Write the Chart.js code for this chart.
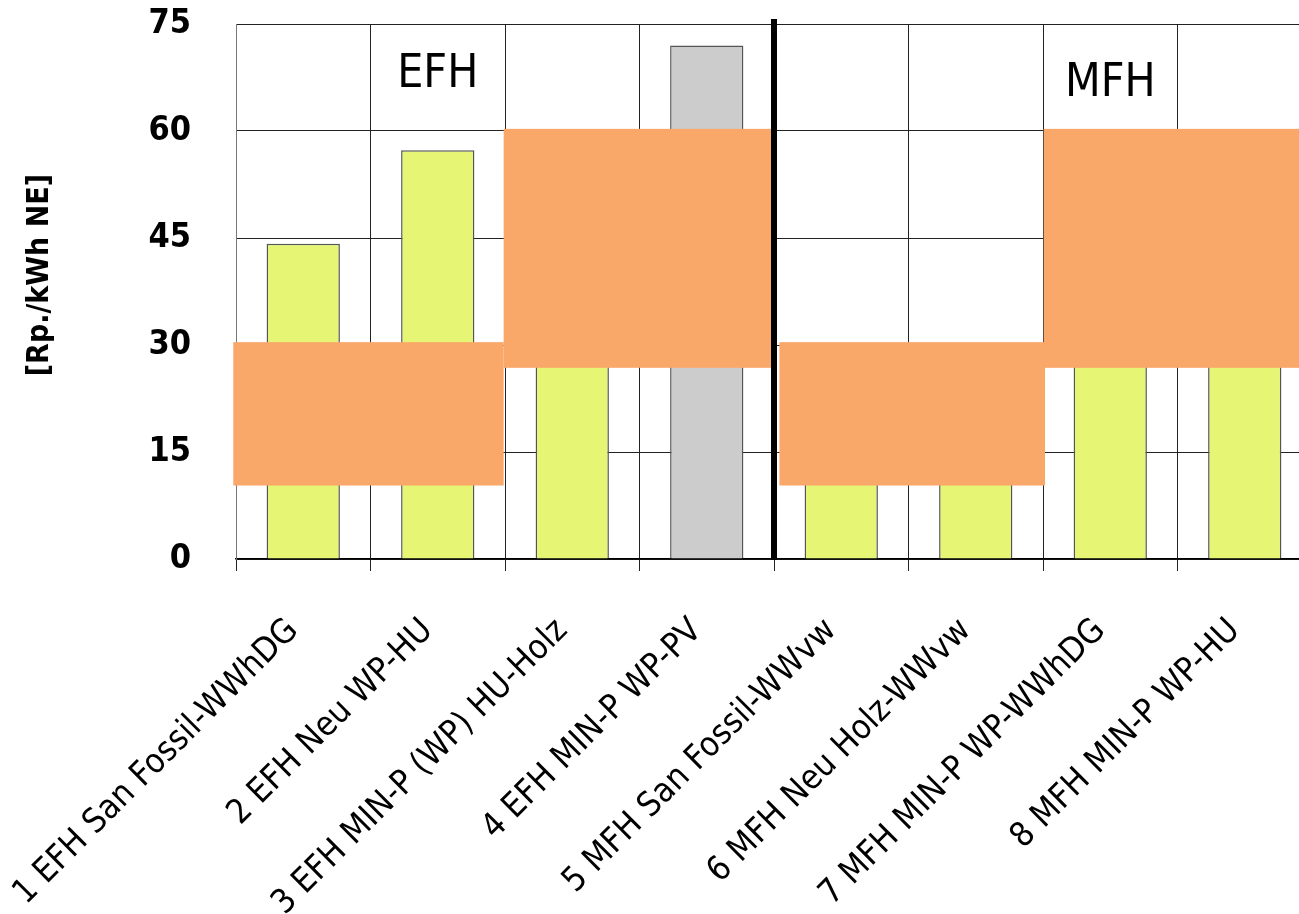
<!DOCTYPE html>
<html><head><meta charset="utf-8">
<script src="https://cdn.jsdelivr.net/npm/chart.js@4.4.1/dist/chart.umd.min.js"></script>
<style>
html,body{margin:0;padding:0;background:#fff;overflow:hidden;width:1299px;height:914px}
#wrap{position:absolute;left:0;top:0;width:1314px;height:914px}
</style>
</head><body><div id="wrap"><canvas id="c"></canvas></div>
<script>
const categories = [
  '1 EFH San Fossil-WWhDG',
  '2 EFH Neu WP-HU',
  '3 EFH MIN-P (WP) HU-Holz',
  '4 EFH MIN-P WP-PV',
  '5 MFH San Fossil-WWvw',
  '6 MFH Neu Holz-WWvw',
  '7 MFH MIN-P WP-WWhDG',
  '8 MFH MIN-P WP-HU'
];
const values = [44.2, 57.3, 45.0, 72.0, 20.0, 20.0, 42.0, 42.0];
const barColors = ['#E6F573','#E6F573','#E6F573','#CCCCCC','#E6F573','#E6F573','#E6F573','#E6F573'];
const yTickMin = 0, yTickMax = 75, yTickStep = 15;
const yTitle = '[Rp./kWh NE]';
const yTitleAt = 39.8;
const groupLabels = ['EFH', 'MFH'];
const groupLabelAt = [1, 6];
const groupLabelY = [67.9, 66.6];
const dividerAfter = 3;
// covering boxes, in category-index and value units
const boxX0 = [-0.52, 1.49, 3.54, 5.505];
const boxX1 = [1.49, 3.5, 5.515, 8.3];
const boxY0 = [10.3, 26.8, 10.3, 26.8];
const boxY1 = [30.4, 60.3, 30.4, 60.3];

const FONT = "'DejaVu Sans Condensed', 'DejaVu Sans', sans-serif";

const overlay = {
  id: 'overlay',
  afterDatasetsDraw(chart) {
    const ctx = chart.ctx, xs = chart.scales.x, ys = chart.scales.y, a = chart.chartArea;
    ctx.save();
    ctx.fillStyle = '#FAA86A';
    for (let i = 0; i < boxX0.length; i++) {
      const x0 = xs.getPixelForValue(boxX0[i]), x1 = xs.getPixelForValue(boxX1[i]);
      const y0 = ys.getPixelForValue(boxY1[i]), y1 = ys.getPixelForValue(boxY0[i]);
      ctx.fillRect(x0, y0, x1 - x0, y1 - y0);
    }
    const xd = (xs.getPixelForValue(dividerAfter) + xs.getPixelForValue(dividerAfter + 1)) / 2;
    ctx.fillStyle = '#000';
    ctx.fillRect(xd - 3, a.top - 5, 6, a.bottom - a.top + 6);
    ctx.font = '46px ' + FONT;
    ctx.textAlign = 'center';
    ctx.textBaseline = 'middle';
    for (let i = 0; i < groupLabels.length; i++) {
      ctx.fillText(groupLabels[i], xs.getPixelForValue(groupLabelAt[i]), ys.getPixelForValue(groupLabelY[i]));
    }
    // y-axis title
    ctx.translate(40, ys.getPixelForValue(yTitleAt));
    ctx.rotate(-Math.PI / 2);
    ctx.font = 'bold 30px ' + FONT;
    ctx.fillText(yTitle, 0, 0);
    ctx.restore();
  }
};

new Chart(document.getElementById('c'), {
  type: 'bar',
  data: {
    labels: categories,
    datasets: [{
      data: values,
      backgroundColor: barColors,
      borderColor: '#555',
      borderWidth: 1.5,
      categoryPercentage: 1,
      barPercentage: 0.545
    }]
  },
  options: {
    responsive: true,
    maintainAspectRatio: false,
    animation: false,
    layout: { padding: { top: 24, right: 2, left: 0, bottom: 0 } },
    plugins: { legend: { display: false }, tooltip: { enabled: false } },
    scales: {
      x: {
        grid: { offset: true, color: '#222', lineWidth: 1, tickLength: 12, drawOnChartArea: true },
        border: { color: '#000', width: 1.5 },
        ticks: {
          color: '#000', font: { family: FONT, size: 34 },
          minRotation: 45, maxRotation: 45, padding: 40, labelOffset: -10, autoSkip: false
        },
        afterFit(s) { s.height = 355; s.paddingLeft = 0; s.paddingRight = 0; s.paddingTop = 0; s.paddingBottom = 0; }
      },
      y: {
        min: yTickMin, max: yTickMax,
        grid: { color: '#222', lineWidth: 1, drawTicks: false },
        border: { color: '#777', width: 1 },
        ticks: { stepSize: yTickStep, color: '#000', font: { family: FONT, size: 34, weight: 'bold' }, padding: 45 },
        afterFit(s) { s.width = 236; s.paddingTop = 0; s.paddingBottom = 0; s.paddingLeft = 0; s.paddingRight = 0; }
      }
    }
  },
  plugins: [overlay]
});
</script>
</body></html>
